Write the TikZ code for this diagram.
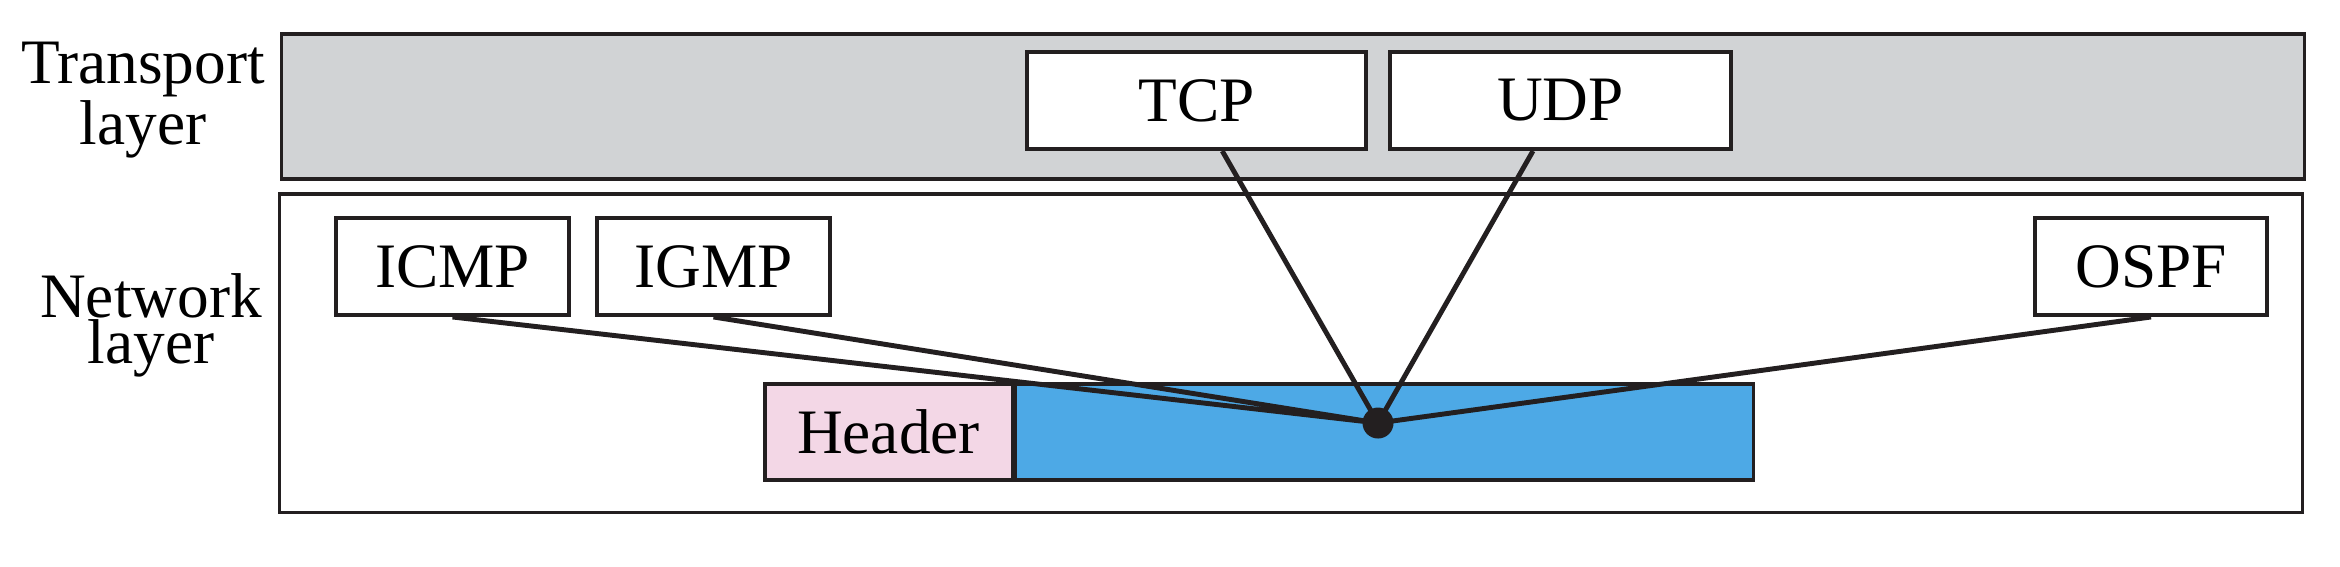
\documentclass[tikz,border=0pt]{standalone}
\usepackage{fontspec}
\setmainfont{Liberation Serif}
\usepackage{tikz}
\usetikzlibrary{positioning,calc}

\definecolor{layergray}{HTML}{D1D3D5}
\definecolor{hdrpink}{HTML}{F3D7E6}
\definecolor{datablue}{HTML}{4DA9E6}
\definecolor{ink}{HTML}{231F20}

\begin{document}
\begin{tikzpicture}[x=0.01cm,y=-0.01cm,node distance=0.2cm,
    proto/.style={draw=ink,line width=1.1pt,fill=white,inner sep=0pt,
        minimum height=0.97cm,font=\fontsize{18}{13}\selectfont},
    lbl/.style={align=center,inner sep=0pt,font=\fontsize{18}{13}\selectfont},
    link/.style={draw=ink,line width=1.4pt}]
    \useasboundingbox (0,0) rectangle (2340,566);
    \node[draw=ink,line width=0.9pt,fill=layergray,inner sep=0pt,
        minimum width=20.22cm,minimum height=1.45cm] (transport) at (1293,106.5) {};
    \node[draw=ink,line width=0.9pt,fill=white,inner sep=0pt,
        minimum width=20.22cm,minimum height=3.18cm] (network) at (1291,353) {};
    \node[lbl] (tlabel) at (143,100.5) {Transport\\layer};
    \node[lbl] (nlabel) at (151,325.5) {Network\\layer};
    \node[proto,minimum width=3.39cm] (tcp) at (1196.5,100.5) {TCP};
    \node[proto,minimum width=3.41cm] (udp) [right=of tcp] {UDP};
    \node[proto,minimum width=2.33cm] (icmp) at (452.5,266.5) {ICMP};
    \node[proto,minimum width=2.33cm] (igmp) [right=0.24cm of icmp] {IGMP};
    \node[proto,minimum width=2.32cm] (ospf) at (2151,266.5) {OSPF};
    \node[proto,fill=hdrpink,line width=0.9pt,minimum width=2.47cm,minimum height=0.96cm] (hdr) at (888.5,432) {Header};
    \node[proto,fill=datablue,line width=0.9pt,minimum width=7.38cm,minimum height=0.96cm] (data) [right=0cm of hdr] {};
    \node[circle,fill=ink,inner sep=0pt,minimum width=0.31cm,minimum height=0.27cm] (hub) at (1378,423) {};
    \path[link]
        (icmp.south) -- (hub.center)
        (igmp.south) -- (hub.center)
        ($(tcp.south west)!0.575!(tcp.south east)$) -- (hub.center)
        ($(udp.south west)!0.42!(udp.south east)$) -- (hub.center)
        (ospf.south) -- (hub.center);
\end{tikzpicture}
\end{document}
